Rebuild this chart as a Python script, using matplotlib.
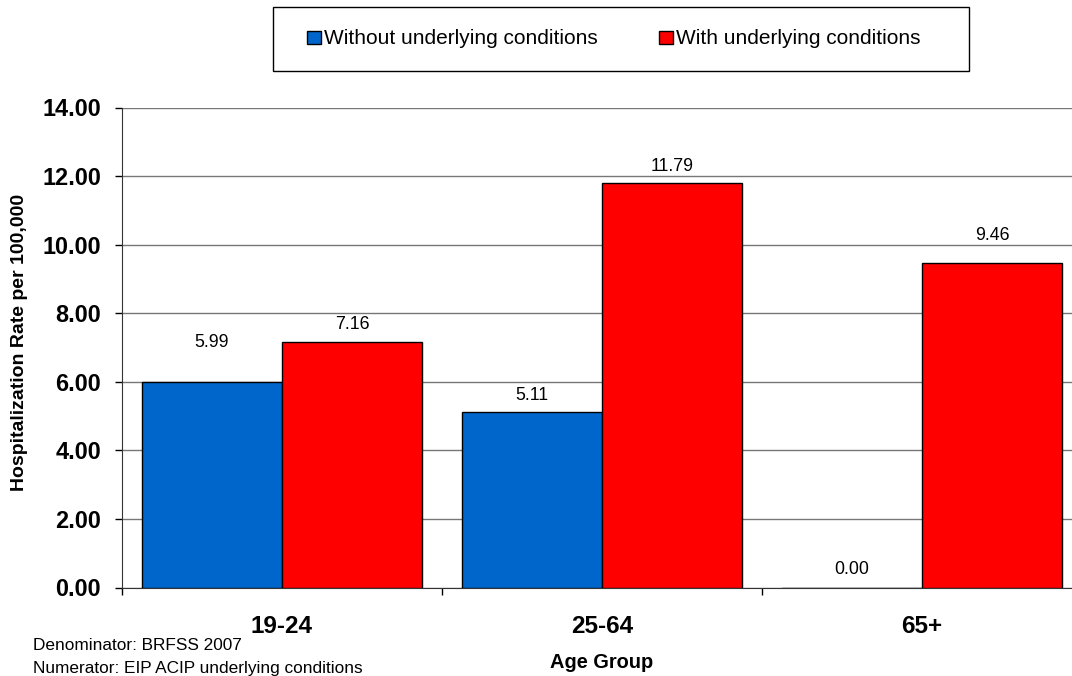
import numpy as np
import matplotlib
matplotlib.use('Agg')
import matplotlib.pyplot as plt
from matplotlib.patches import Patch, Rectangle

plt.rcParams['font.family'] = ['Liberation Sans', 'DejaVu Sans']

age_groups = ['19-24', '25-64', '65+']
without_cond = [5.99, 5.11, 0.00]
with_cond = [7.16, 11.79, 9.46]
series_names = ['Without underlying conditions', 'With underlying conditions']
notes = ['Denominator: BRFSS 2007', 'Numerator: EIP ACIP underlying conditions']

blue = '#0066CC'
red = '#FF0000'

fig = plt.figure(figsize=(10.72, 6.76), dpi=100)
ax = fig.add_axes([122/1072, 88.5/676, 960/1072, 480/676])

x = np.arange(len(age_groups)) + 0.5
w = 140/320
b1 = ax.bar(x - w/2, without_cond, w, color=blue, edgecolor='black', linewidth=1, zorder=3)
b2 = ax.bar(x + w/2, with_cond, w, color=red, edgecolor='black', linewidth=1, zorder=3)

# label offsets above bar tops (pixels), as placed in the original
off_blue = [40, 17, 18]
off_red = [18, 17, 28]
for bars, vals, offs in [(b1, without_cond, off_blue), (b2, with_cond, off_red)]:
    for r, v, o in zip(bars, vals, offs):
        ax.annotate(f'{v:.2f}', (r.get_x() + r.get_width()/2, v),
                    xytext=(0, o*0.72), textcoords='offset points',
                    ha='center', va='center', fontsize=12.8)

ax.set_xlim(0, 3)
ax.set_ylim(0, 14)
ax.set_yticks(np.arange(0, 15, 2))
ax.set_yticklabels([f'{t:.2f}' for t in np.arange(0, 15, 2)], fontsize=16.9, fontweight='bold')
ax.tick_params(axis='y', length=5, width=1, pad=10, direction='out')

ax.set_xticks(x)
ax.set_xticklabels(age_groups, fontsize=17.5, fontweight='bold')
ax.tick_params(axis='x', which='major', length=0, pad=20)
ax.set_xticks(np.arange(0, 4), minor=True)
ax.tick_params(axis='x', which='minor', length=5, width=1, direction='out')

ax.grid(axis='y', color='#777777', linewidth=1, zorder=0)
ax.set_axisbelow(True)
for s in ['top', 'right']:
    ax.spines[s].set_visible(False)
ax.spines['left'].set_color('#333333')
ax.spines['bottom'].set_color('#333333')

ax.set_ylabel('Hospitalization Rate per 100,000', fontsize=14, fontweight='bold', va='center')
ax.yaxis.set_label_coords(-0.107, 0.511)
ax.set_xlabel('Age Group', fontsize=14.4, fontweight='bold', va='center')
ax.xaxis.set_label_coords(0.5, -0.157)

# legend box
fig.patches.append(Rectangle((273/1072, 1 - 71/676), 696/1072, 64/676,
                             transform=fig.transFigure, facecolor='white',
                             edgecolor='black', linewidth=1))
handles = [Patch(facecolor=blue, edgecolor='black'), Patch(facecolor=red, edgecolor='black')]
fig.legend(handles, series_names, loc='center left', bbox_to_anchor=(307/1072, 1 - 39/676),
           ncol=2, frameon=False, fontsize=15, borderpad=0, borderaxespad=0,
           handlelength=0.67, handleheight=0.6, handletextpad=0.15, columnspacing=2.95)

for i, t in enumerate(notes):
    fig.text(33/1072, 1 - (646 + 22*i)/676, t, fontsize=12.4, va='center', ha='left')

fig.savefig('out.png', dpi=100)
